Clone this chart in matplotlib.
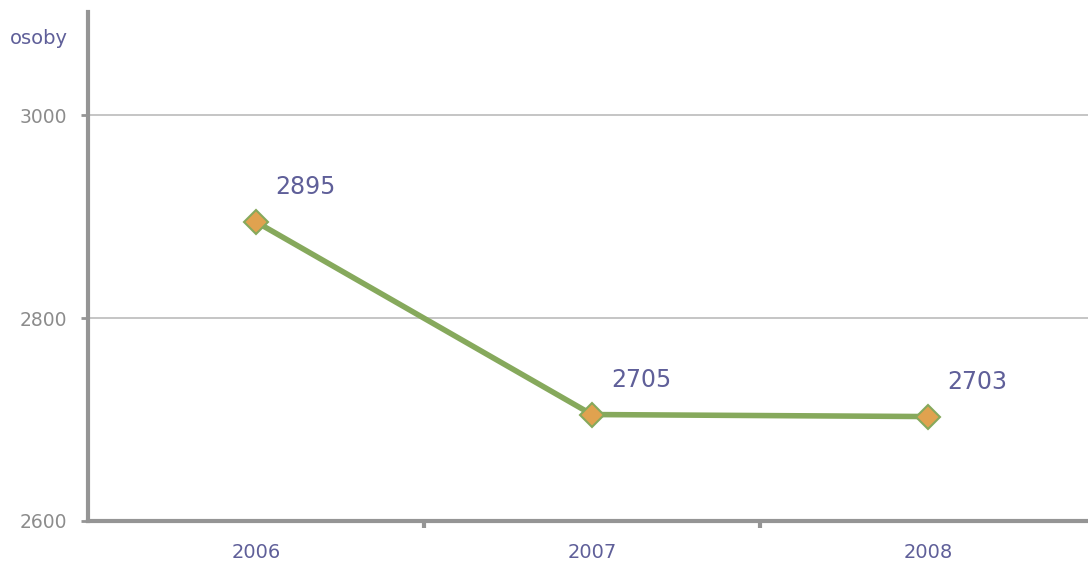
import matplotlib
matplotlib.use("Agg")
import matplotlib.pyplot as plt

years = ["2006", "2007", "2008"]
values = [2895, 2705, 2703]
yticks = [2600, 2800, 3000]

purple = "#5f5f99"
grey_axis = "#959595"

fig = plt.figure(figsize=(10.88, 5.62), dpi=100)
ax = fig.add_axes([88/1088, 1-521/562, 1008/1088, (521-12)/562])

x = list(range(len(years)))
ax.plot(x, values, color="#86a95c", lw=4, marker="D", ms=12,
        mfc="#e0a24f", mec="#86a95c", mew=1.5, zorder=3, clip_on=False)
for xi, v in zip(x, values):
    ax.annotate(str(v), (xi, v), xytext=(14, 20), textcoords="offset points",
                color=purple, fontsize=17, ha="left", va="baseline")

ax.set_xlim(-0.5, 2.5)
ax.set_ylim(2600, 3102)
ax.set_yticks(yticks)
ax.set_yticklabels([str(t) for t in yticks], color="#8c8c8c", fontsize=13.5)
ax.yaxis.grid(True, color="#c0c0c0", lw=1.3)
ax.set_axisbelow(True)

ax.set_xticks([0.5, 1.5], minor=False)
ax.set_xticklabels([])
ax.set_xticks(x, minor=True)
ax.set_xticklabels(years, minor=True, color=purple, fontsize=14)
ax.tick_params(axis="x", which="minor", length=0, pad=16)
ax.tick_params(axis="x", which="major", length=5, width=3, color=grey_axis)
ax.tick_params(axis="y", length=5, width=2, color=grey_axis, pad=10)

for s in ["top", "right"]:
    ax.spines[s].set_visible(False)
for s in ["left", "bottom"]:
    ax.spines[s].set_color(grey_axis)
    ax.spines[s].set_linewidth(3)

fig.text(10/1088, 1-38/562, "osoby", color=purple, fontsize=14, va="center", ha="left")

fig.savefig("out.png", dpi=100)
